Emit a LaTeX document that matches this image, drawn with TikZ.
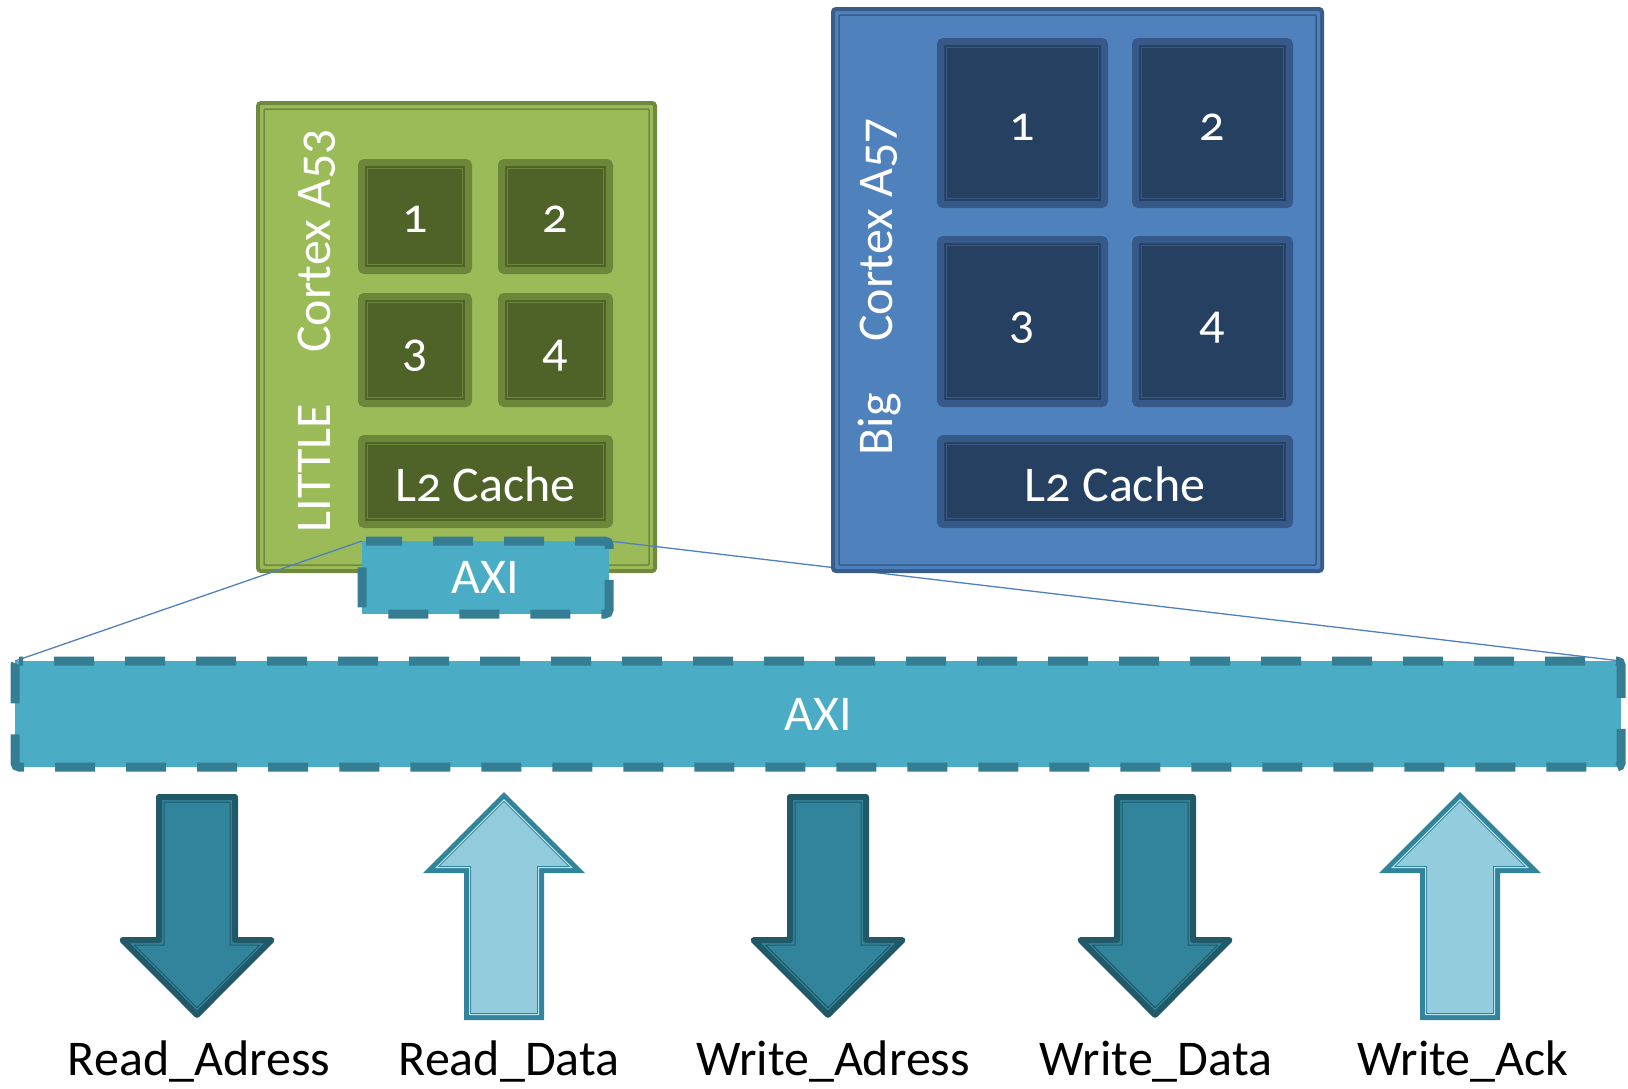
\documentclass[tikz,border=0pt]{standalone}
\usepackage{fontspec}
\setmainfont{Carlito}[Numbers=OldStyle]
\definecolor{gFill}{HTML}{9BBB59}
\definecolor{gLine}{HTML}{71893F}
\definecolor{gCore}{HTML}{4F6228}
\definecolor{gCoreLine}{HTML}{6C873A}
\definecolor{bFill}{HTML}{4F81BD}
\definecolor{bLine}{HTML}{385D8A}
\definecolor{bCore}{HTML}{254061}
\definecolor{bCoreLine}{HTML}{36598A}
\definecolor{axiFill}{HTML}{4BACC6}
\definecolor{axiLine}{HTML}{357D92}
\definecolor{dnFill}{HTML}{31849B}
\definecolor{dnLine}{HTML}{215968}
\definecolor{upFill}{HTML}{93CDDD}
\definecolor{upLine}{HTML}{31849B}
\definecolor{upStripe}{HTML}{BFE3EC}
\definecolor{linkBlue}{HTML}{4F81BD}
\pgfdeclarelayer{links}
\pgfdeclarelayer{front}
\pgfsetlayers{main,links,front}
\tikzset{
  bigtxt/.style={font=\fontsize{50}{54}\selectfont, inner sep=0pt, outer sep=0pt},
  wtxt/.style={bigtxt, text=white},
  cluster/.style={rectangle, line width=4pt, rounded corners=3pt, inner sep=0pt, outer sep=0pt},
  gcore/.style={rectangle, fill=gCore, draw=gCoreLine, line width=7pt, rounded corners=3pt, inner sep=0pt, outer sep=0pt},
  bcore/.style={rectangle, fill=bCore, draw=bCoreLine, line width=7pt, rounded corners=3pt, inner sep=0pt, outer sep=0pt},
  axibox/.style={rectangle, fill=axiFill, inner sep=0pt, outer sep=0pt, text=white, font=\fontsize{50}{54}\selectfont},
  axidash/.style={draw=axiLine, line width=9pt, dash pattern=on 40pt off 31pt, rounded corners=4pt},
  link/.style={draw=linkBlue, line width=1.3pt},
  label/.style={bigtxt, text=black, anchor=base},
  downarr/.pic={
    \draw[dnLine, fill=dnFill, line width=6pt, line join=round]
      (-38,3) -- (38,3) -- (38,146) -- (74.5,146) -- (0,220.8) -- (-74.5,146) -- (-38,146) -- cycle;
    \draw[dnLine, line width=1pt, line join=round]
      (-33,8) -- (33,8) -- (33,151) -- (62.7,151) -- (0,213.7) -- (-62.7,151) -- (-33,151) -- cycle;
  },
  uparr/.pic={
    \draw[upLine, fill=upFill, line width=7pt, line join=miter]
      (0,4.95) -- (72.5,77.5) -- (36.5,77.5) -- (36.5,224.5) -- (-36.5,224.5) -- (-36.5,77.5) -- (-72.5,77.5) -- cycle;
    \draw[upStripe, line width=1pt, line join=miter]
      (0,7.8) -- (67.7,75.5) -- (34.5,75.5) -- (34.5,222.5) -- (-34.5,222.5) -- (-34.5,75.5) -- (-67.7,75.5) -- cycle;
  }
}
\begin{document}
\begin{tikzpicture}[x=1pt,y=-1pt]
\useasboundingbox (0,0) rectangle (1628,1088);
\fill[white] (0,0) rectangle (1628,1088);

% ---------- LITTLE cluster ----------
\node[cluster, fill=gFill, draw=gLine, minimum width=397pt, minimum height=468pt] (little) at (456.5,337) {};
\draw[gLine, line width=1.5pt, rounded corners=1pt] ([shift={(6,6)}]little.north west) rectangle ([shift={(-6,-6)}]little.south east);

\node[gcore, minimum width=107pt, minimum height=108pt] (g1) at (415,216.5) {};
\node[gcore, minimum width=108pt, minimum height=108pt] (g2) at (555.5,216.5) {};
\node[gcore, minimum width=107pt, minimum height=107pt] (g3) at (415,350) {};
\node[gcore, minimum width=108pt, minimum height=107pt] (g4) at (555.5,350) {};
\node[gcore, minimum width=248pt, minimum height=86pt] (gl2) at (485.5,481.5) {};
\foreach \n in {g1,g2,g3,g4,gl2}{
  \draw[gCoreLine, line width=1pt] ([shift={(6,6)}]\n.north west) rectangle ([shift={(-6,-6)}]\n.south east);
}
\node[wtxt, anchor=base] (g1t) at (415,232.5) {1};
\node[wtxt, anchor=base] (g2t) at (555.5,232.5) {2};
\node[wtxt, anchor=base] (g3t) at (415,366) {3};
\node[wtxt, anchor=base] (g4t) at (555.5,366) {4};
\node[wtxt, anchor=base] (gl2t) at (485.5,501) {L2 Cache};
\node[wtxt, rotate=90, anchor=base] (a53) at (330,241) {Cortex A53};
\node[wtxt, rotate=90, anchor=base] (lit) at (330,468) {LITTLE};

% ---------- front layer ----------
\begin{pgfonlayer}{front}
% Big cluster
\node[cluster, fill=bFill, draw=bLine, minimum width=489pt, minimum height=562pt] (big) at (1077.5,290) {};
\draw[bLine, line width=1.5pt, rounded corners=1pt] ([shift={(6,6)}]big.north west) rectangle ([shift={(-6,-6)}]big.south east);

\node[bcore, minimum width=164pt, minimum height=163pt] (b1) at (1022.5,123) {};
\node[bcore, minimum width=154pt, minimum height=163pt] (b2) at (1212.5,123) {};
\node[bcore, minimum width=164pt, minimum height=164pt] (b3) at (1022.5,321.5) {};
\node[bcore, minimum width=154pt, minimum height=164pt] (b4) at (1212.5,321.5) {};
\node[bcore, minimum width=349pt, minimum height=86pt] (bl2) at (1115,481.5) {};
\foreach \n in {b1,b2,b3,b4,bl2}{
  \draw[bCoreLine, line width=1pt] ([shift={(6,6)}]\n.north west) rectangle ([shift={(-6,-6)}]\n.south east);
}
\node[wtxt, anchor=base] (b1t) at (1022.5,140) {1};
\node[wtxt, anchor=base] (b2t) at (1212.5,140) {2};
\node[wtxt, anchor=base] (b3t) at (1022.5,338.5) {3};
\node[wtxt, anchor=base] (b4t) at (1212.5,338.5) {4};
\node[wtxt, anchor=base] (bl2t) at (1115,501) {L2 Cache};
\node[wtxt, rotate=90, anchor=base] (a57) at (892,230) {Cortex A57};
\node[wtxt, rotate=90, anchor=base] (bigt) at (892,424.5) {Big};

% small AXI
\node[axibox, minimum width=247pt, minimum height=73pt] (axis) at (485.5,577.5) {AXI};
\draw[axidash, dash phase=4pt] (axis.north west) -- (axis.north east) -- (axis.south east) -- (axis.south west) -- cycle;

% big AXI
\node[axibox, minimum width=1606pt, minimum height=106pt] (axib) at (818,714) {AXI};
\draw[axidash, dash phase=36pt] (axib.north west) -- (axib.north east) -- (axib.south east) -- (axib.south west) -- cycle;

% arrows
\pic (ra) at (197,794) {downarr};
\pic (rd) at (504,792) {uparr};
\pic (wa) at (828,794) {downarr};
\pic (wd) at (1155,794) {downarr};
\pic (wk) at (1460,792) {uparr};

% labels
\node[label] (lra) at (199,1075) {Read\_Adress};
\node[label] (lrd) at (509,1075) {Read\_Data};
\node[label] (lwa) at (833,1075) {Write\_Adress};
\node[label] (lwd) at (1156,1075) {Write\_Data};
\node[label] (lwk) at (1463,1075) {Write\_Ack};
\end{pgfonlayer}

% links (above LITTLE, below Big)
\begin{pgfonlayer}{links}
\draw[link] (axis.north west) -- (axib.north west);
\draw[link] (axis.north east) -- (axib.north east);
\end{pgfonlayer}
\end{tikzpicture}
\end{document}
